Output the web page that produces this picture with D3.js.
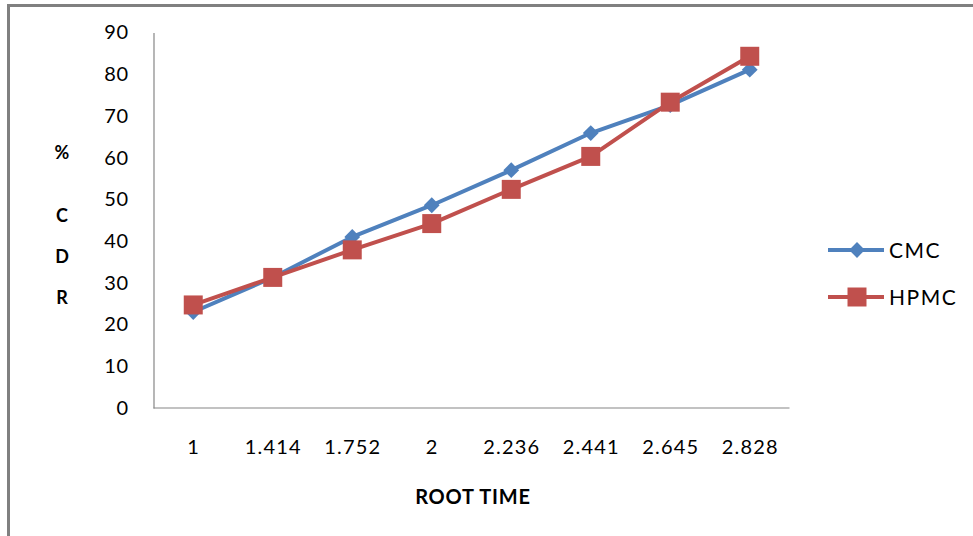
<!DOCTYPE html>
<html>
<head>
<meta charset="utf-8">
<script src="https://cdn.jsdelivr.net/npm/d3@7"></script>
<style>
  html, body { margin: 0; padding: 0; background: #fff; }
  svg { display: block; }
</style>
</head>
<body>
<svg id="chart" width="973" height="536"></svg>
<script>
const categories = ["1", "1.414", "1.752", "2", "2.236", "2.441", "2.645", "2.828"];
const cmcValues  = [23.0, 31.3, 41.0, 48.6, 57.0, 65.9, 72.6, 81.1];
const hpmcValues = [24.7, 31.3, 37.9, 44.2, 52.4, 60.3, 73.3, 84.3];
const yTicks = [0, 10, 20, 30, 40, 50, 60, 70, 80, 90];
const seriesNames = ["CMC", "HPMC"];
const yTitleChars = ["%", "C", "D", "R"];
const xTitle = "ROOT TIME";

const FONT = "Lato, 'Liberation Sans', sans-serif";
const colors = { CMC: "#4F81BD", HPMC: "#C0504D" };

const svg = d3.select("#chart");

// outer frame (gray border, top and left visible)
svg.append("path")
  .attr("d", "M8.5,540 L8.5,5.5 L980,5.5")
  .attr("fill", "none")
  .attr("stroke", "#808080")
  .attr("stroke-width", 3);

const plot = { left: 153.5, right: 789.5, top: 32.5, bottom: 408 };

const x = d3.scalePoint()
  .domain(categories)
  .range([plot.left, plot.right])
  .padding(0.5);

const y = d3.scaleLinear()
  .domain([0, 90])
  .range([plot.bottom, plot.top]);

// Y axis
const yAxis = svg.append("g")
  .attr("transform", `translate(${plot.left},0)`)
  .call(d3.axisLeft(y).tickValues(yTicks).tickSize(0).tickSizeOuter(0).tickPadding(25));
yAxis.select(".domain").attr("stroke", "#868686").attr("stroke-width", 1.2);
yAxis.selectAll("text")
  .attr("font-family", FONT)
  .attr("font-size", 20)
  .attr("fill", "#000")
  .attr("letter-spacing", 0.5);

// X axis
const xAxis = svg.append("g")
  .attr("transform", `translate(0,${plot.bottom})`)
  .call(d3.axisBottom(x).tickSize(0).tickSizeOuter(0).tickPadding(32));
xAxis.select(".domain").attr("stroke", "#868686").attr("stroke-width", 1.2)
  .attr("d", `M${plot.left},0H${plot.right}`);
xAxis.selectAll("text")
  .attr("font-family", FONT)
  .attr("font-size", 20)
  .attr("fill", "#000")
  .attr("letter-spacing", 1.2);

// Axis titles
svg.append("text")
  .attr("x", 473).attr("y", 504)
  .attr("text-anchor", "middle")
  .attr("font-family", FONT)
  .attr("font-weight", "bold")
  .attr("font-size", 20)
  .attr("letter-spacing", 0.8)
  .attr("fill", "#000")
  .text(xTitle);

const yTitleY = [159, 222, 263, 304];
svg.selectAll("text.ytitle")
  .data(yTitleChars)
  .join("text")
  .attr("class", "ytitle")
  .attr("x", 62)
  .attr("y", (d, i) => yTitleY[i])
  .attr("text-anchor", "middle")
  .attr("font-family", FONT)
  .attr("font-weight", "bold")
  .attr("font-size", 18)
  .attr("fill", "#000")
  .text(d => d);

// Series
const series = [
  { name: "CMC", values: cmcValues, symbol: d3.symbolSquare, size: 125, rotate: 45 },
  { name: "HPMC", values: hpmcValues, symbol: d3.symbolSquare, size: 361, rotate: 0 }
];

const line = d3.line()
  .x((d, i) => x(categories[i]))
  .y(d => y(d));

series.forEach(s => {
  const g = svg.append("g");
  g.append("path")
    .datum(s.values)
    .attr("d", line)
    .attr("fill", "none")
    .attr("stroke", colors[s.name])
    .attr("stroke-width", 4)
    .attr("stroke-linejoin", "round");
  g.selectAll("path.marker")
    .data(s.values)
    .join("path")
    .attr("class", "marker")
    .attr("d", d3.symbol().type(s.symbol).size(s.size))
    .attr("transform", (d, i) => `translate(${x(categories[i])},${y(d)}) rotate(${s.rotate})`)
    .attr("fill", colors[s.name]);
});

// Legend
const legendY = { CMC: 250, HPMC: 297 };
series.forEach(s => {
  const ly = legendY[s.name];
  const g = svg.append("g");
  g.append("line")
    .attr("x1", 828).attr("x2", 884)
    .attr("y1", ly).attr("y2", ly)
    .attr("stroke", colors[s.name])
    .attr("stroke-width", 4);
  g.append("path")
    .attr("d", d3.symbol().type(s.symbol).size(s.size))
    .attr("transform", `translate(857,${ly}) rotate(${s.rotate})`)
    .attr("fill", colors[s.name]);
  g.append("text")
    .attr("x", 889).attr("y", ly)
    .attr("dy", "0.36em")
    .attr("font-family", FONT)
    .attr("font-size", 21)
    .attr("letter-spacing", 1.5)
    .attr("fill", "#000")
    .text(s.name);
});
</script>
</body>
</html>
